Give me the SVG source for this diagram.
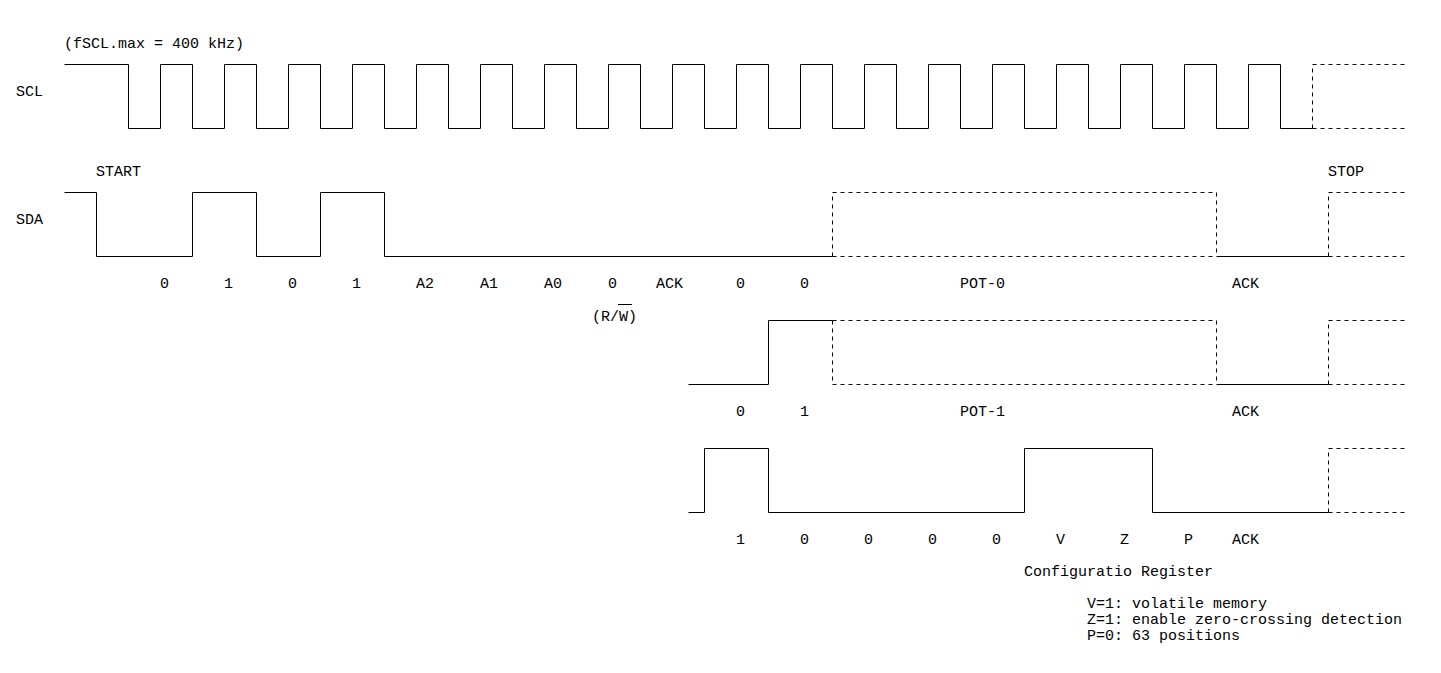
<svg xmlns="http://www.w3.org/2000/svg" width="1441" height="673" viewBox="0 0 1441 673">
<style>
.w{fill:none;stroke:#000;stroke-width:1}
.d{fill:none;stroke:#000;stroke-width:1;stroke-dasharray:4 4}
text{font-family:"Liberation Mono","DejaVu Sans Mono",monospace;font-size:15px;fill:#000}
</style>
<rect width="1441" height="673" fill="#fff"/>
<g id="waveforms" transform="translate(0.5,0.5)">
<g id="scl">
<path class="w" d="M64 64 H128 V128 H160 V64 H192 V128 H224 V64 H256 V128 H288 V64 H320 V128 H352 V64 H384 V128 H416 V64 H448 V128 H480 V64 H512 V128 H544 V64 H576 V128 H608 V64 H640 V128 H672 V64 H704 V128 H736 V64 H768 V128 H800 V64 H832 V128 H864 V64 H896 V128 H928 V64 H960 V128 H992 V64 H1024 V128 H1056 V64 H1088 V128 H1120 V64 H1152 V128 H1184 V64 H1216 V128 H1248 V64 H1280 V128 H1312"/>
<path class="d" d="M1312 128 V64 H1404 M1312 128 H1404"/>
</g>
<g id="sda">
<path class="w" d="M64 192 H96 V256 H192 V192 H256 V256 H320 V192 H384 V256 H832"/>
<path class="d" d="M832 256 V192 H1216 V256 M832 256 H1216"/>
<path class="w" d="M1216 256 H1328"/>
<path class="d" d="M1328 256 V192 H1404 M1328 256 H1404"/>
</g>
<g id="pot1">
<path class="w" d="M688 384 H768 V320 H832"/>
<path class="d" d="M832 320 V384 M832 320 H1216 V384 M832 384 H1216"/>
<path class="w" d="M1216 384 H1328"/>
<path class="d" d="M1328 384 V320 H1404 M1328 384 H1404"/>
</g>
<g id="config">
<path class="w" d="M688 512 H704 V448 H768 V512 H1024 V448 H1152 V512 H1328"/>
<path class="d" d="M1328 512 V448 H1404 M1328 512 H1404"/>
</g>
</g>
<g id="labels">
<text x="64" y="48">(fSCL.max = 400 kHz)</text>
<text x="16" y="96">SCL</text>
<text x="16" y="224">SDA</text>
<text x="96" y="176">START</text>
<text x="1328" y="176">STOP</text>
<text x="160" y="288">0</text>
<text x="224" y="288">1</text>
<text x="288" y="288">0</text>
<text x="352" y="288">1</text>
<text x="416" y="288">A2</text>
<text x="480" y="288">A1</text>
<text x="544" y="288">A0</text>
<text x="608" y="288">0</text>
<text x="656" y="288">ACK</text>
<text x="736" y="288">0</text>
<text x="800" y="288">0</text>
<text x="960" y="288">POT-0</text>
<text x="1232" y="288">ACK</text>
<text x="592" y="321">(R/W)</text>
<line x1="618" y1="304.5" x2="632" y2="304.5" stroke="#000" stroke-width="1"/>
<text x="736" y="416">0</text>
<text x="800" y="416">1</text>
<text x="960" y="416">POT-1</text>
<text x="1232" y="416">ACK</text>
<text x="736" y="544">1</text>
<text x="800" y="544">0</text>
<text x="864" y="544">0</text>
<text x="928" y="544">0</text>
<text x="992" y="544">0</text>
<text x="1056" y="544">V</text>
<text x="1120" y="544">Z</text>
<text x="1184" y="544">P</text>
<text x="1232" y="544">ACK</text>
<text x="1024" y="576">Configuratio Register</text>
<text x="1087" y="608">V=1: volatile memory</text>
<text x="1087" y="624">Z=1: enable zero-crossing detection</text>
<text x="1087" y="640">P=0: 63 positions</text>
</g>
</svg>
